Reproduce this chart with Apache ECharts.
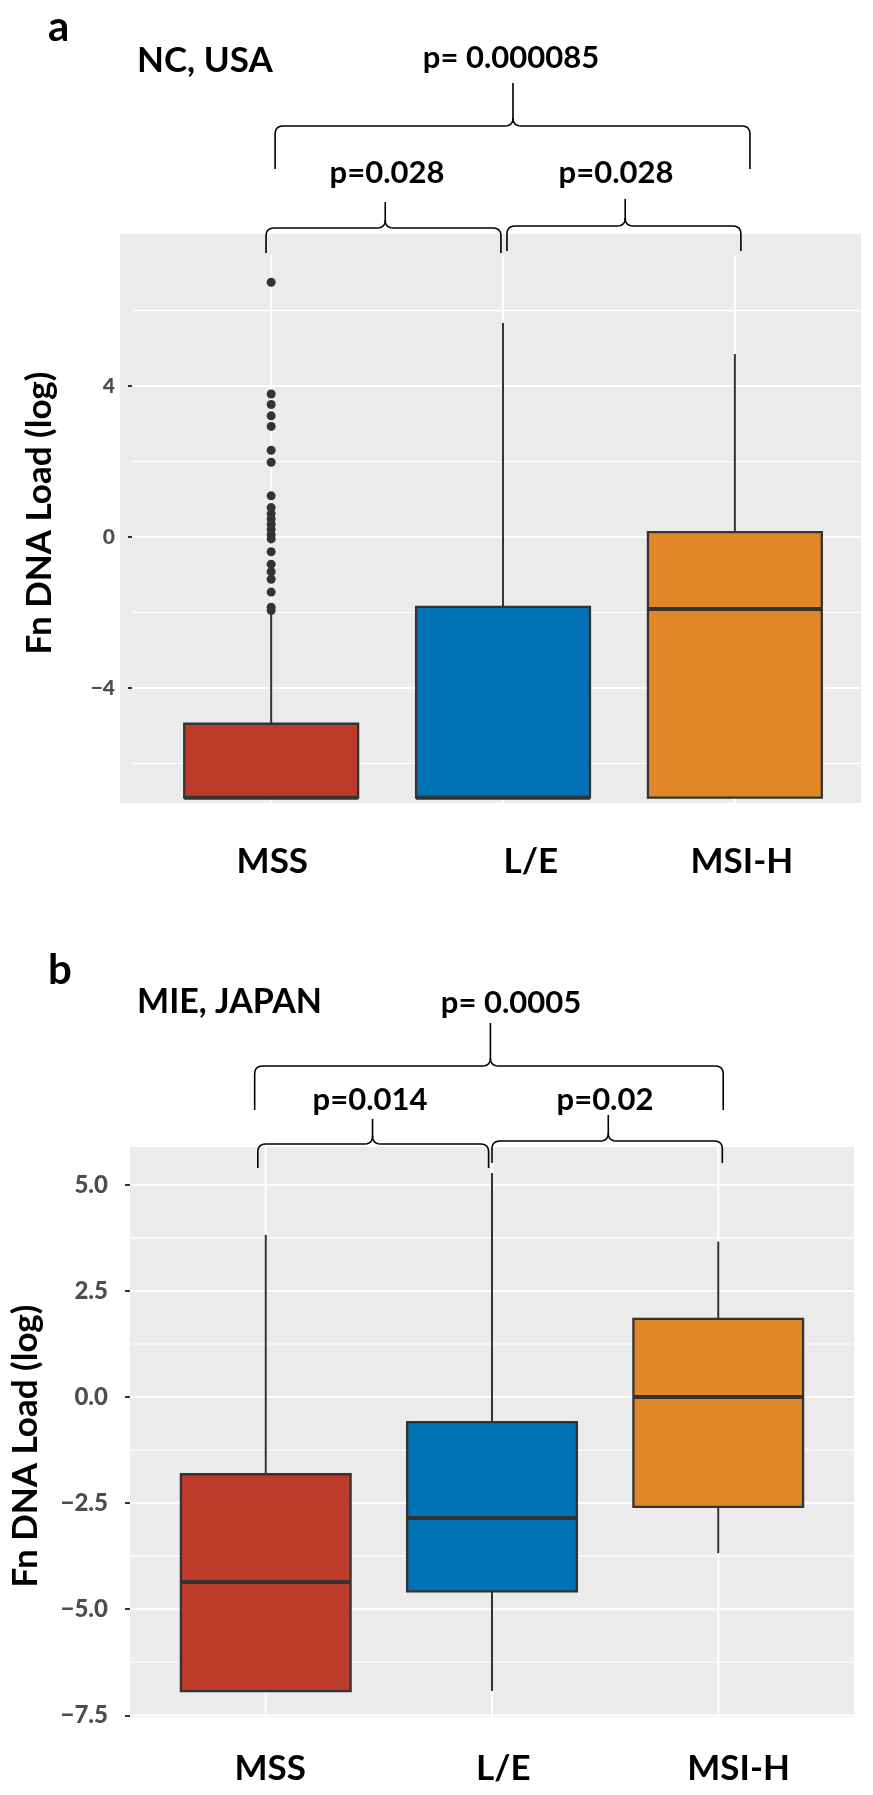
<!DOCTYPE html>
<html><head><meta charset="utf-8">
<script src="https://cdn.jsdelivr.net/npm/echarts@6/dist/echarts.min.js"></script>
<style>html,body{margin:0;padding:0;background:#fff}#c{width:873px;height:1795px}</style>
</head><body><div id="c"></div>
<script>
// ---------------- DATA ----------------
const categories = ['MSS', 'L/E', 'MSI-H'];

// Panel a: NC, USA
const ncWhiskerLow  = [-6.91, -6.91, -6.91];
const ncQ1          = [-6.91, -6.91, -6.91];
const ncMedian      = [-6.91, -6.91, -1.91];
const ncQ3          = [-4.95, -1.85, 0.13];
const ncWhiskerHigh = [-2.03, 5.67, 4.85];
const ncOutliersMSS = [6.75, 3.79, 3.51, 3.21, 2.93, 2.30, 1.98, 1.09, 0.78, 0.62, 0.48, 0.34, 0.20, 0.06, -0.05, -0.39, -0.72, -0.92, -1.12, -1.46, -1.86, -1.95];
const ncMajorTicks  = [-4, 0, 4];
const ncMinorTicks  = [-6, -2, 2, 6];
const ncPValues     = ['p= 0.000085', 'p=0.028', 'p=0.028'];

// Panel b: MIE, JAPAN
const mieWhiskerLow  = [-6.93, -6.93, -3.68];
const mieQ1          = [-6.93, -4.58, -2.59];
const mieMedian      = [-4.36, -2.85, 0.0];
const mieQ3          = [-1.82, -0.59, 1.84];
const mieWhiskerHigh = [3.82, 5.28, 3.66];
const mieMajorTicks  = [-7.5, -5, -2.5, 0, 2.5, 5];
const mieMinorTicks  = [-6.25, -3.75, -1.25, 1.25, 3.75];
const miePValues     = ['p= 0.0005', 'p=0.014', 'p=0.02'];

// ---------------- STYLE / LAYOUT ----------------
const boxColors = ['#BC3C29', '#0072B5', '#E18727'];
const FONT = 'Lato';
const panels = [
  { tag: 'a', title: 'NC, USA', low: ncWhiskerLow, q1: ncQ1, med: ncMedian, q3: ncQ3, high: ncWhiskerHigh,
    major: ncMajorTicks, minor: ncMinorTicks, pv: ncPValues,
    grid: { left: 120, top: 234, width: 741, height: 569 },
    xMin: 0.348, xMax: 3.544, yMin: -7.05, yMax: 8.03, panelX0: 0.4, panelYTop: 7.47,
    yOffset: -13, xOffset: 21, yLabelSize: 21, yLabelMargin: 18, fmt: v => (v < 0 ? '\u2212' : '') + Math.abs(v),
    xLabelPos: [1.005, 2.12, 3.03], xLabelMargin: 20, nameGap: 76, namePad: [0, 0, 0, 11],
    tagPos: [48, 27], titlePos: [137, 61], titleSize: 35, pTop: [511, 58], pLeft: [387, 173], pRight: [616, 173],
    braces: [[1.017, 3.065, 2.043, 126, 169, 83], [0.978, 1.991, 1.492, 228, 253, 202], [2.017, 3.026, 2.527, 226, 251, 199]] },
  { tag: 'b', title: 'MIE, JAPAN', low: mieWhiskerLow, q1: mieQ1, med: mieMedian, q3: mieQ3, high: mieWhiskerHigh,
    major: mieMajorTicks, minor: mieMinorTicks, pv: miePValues,
    grid: { left: 128, top: 1147, width: 726, height: 570 },
    xMin: 0.4, xMax: 3.6, yMin: -7.54, yMax: 5.89, panelX0: 0.4, panelYTop: 5.89,
    yOffset: 0, xOffset: 0, yLabelSize: 24, yLabelMargin: 22, fmt: v => (v < 0 ? '\u2212' : '') + Math.abs(v).toFixed(1),
    xLabelPos: [1.02, 2.05, 3.09], xLabelMargin: 34, nameGap: 87, namePad: [0, 28, 0, 0],
    tagPos: [48, 970], titlePos: [137, 1002], titleSize: 34, pTop: [511, 1003], pLeft: [370, 1100], pRight: [605, 1100],
    braces: [[0.951, 3.022, 1.993, 1066, 1110, 1023], [0.965, 1.985, 1.472, 1144, 1168, 1119], [2.0, 3.018, 2.514, 1141, 1163, 1115]] }
];

const grids = [], xAxes = [], yAxes = [], series = [];
panels.forEach((p, k) => {
  grids.push(Object.assign({ show: true, backgroundColor: '#EBEBEB', borderWidth: 0 }, p.grid));
  xAxes.push({
    gridIndex: k, type: 'value', min: p.xMin, max: p.xMax, offset: p.xOffset,
    axisLine: { show: false }, splitLine: { show: false },
    axisTick: { show: true, customValues: [1, 2, 3], length: 5, lineStyle: { color: '#333333', width: 2 } },
    axisLabel: { customValues: p.xLabelPos, formatter: v => categories[Math.round(v) - 1] || '',
      margin: p.xLabelMargin, color: '#000', fontFamily: FONT, fontWeight: 'bold', fontSize: 35 }
  });
  yAxes.push({
    gridIndex: k, type: 'value', min: p.yMin, max: p.yMax, offset: p.yOffset,
    axisLine: { show: false }, splitLine: { show: false },
    axisTick: { show: true, customValues: p.major, length: 5, lineStyle: { color: '#333333', width: 2 } },
    axisLabel: { customValues: p.major, formatter: p.fmt, margin: p.yLabelMargin, color: '#4D4D4D',
      fontFamily: FONT, fontWeight: 900, fontSize: p.yLabelSize },
    name: 'Fn DNA Load (log)', nameLocation: 'middle', nameRotate: 90, nameGap: p.nameGap,
    nameTextStyle: { color: '#000', fontFamily: FONT, fontWeight: 'bold', fontSize: 35, padding: p.namePad }
  });
  // gridlines
  const gl = [];
  p.major.forEach(v => gl.push([0, v, 2]));
  p.minor.forEach(v => gl.push([0, v, 1.1]));
  categories.forEach((c, i) => gl.push([1, i + 1, 2]));
  series.push({
    type: 'custom', xAxisIndex: k, yAxisIndex: k, z: 1, silent: true, data: gl,
    renderItem: (params, api) => {
      const cs = params.coordSys;
      const kind = api.value(0), v = api.value(1), w = api.value(2);
      let s;
      if (kind === 0) { const pt = api.coord([p.panelX0, v]); s = { x1: pt[0], y1: pt[1], x2: cs.x + cs.width, y2: pt[1] }; }
      else { const pt = api.coord([v, p.panelYTop]); s = { x1: pt[0], y1: pt[1], x2: pt[0], y2: cs.y + cs.height }; }
      return { type: 'line', shape: s, style: { stroke: '#FFFFFF', lineWidth: w } };
    }
  });
  // boxes
  const bd = categories.map((c, i) => [i + 1, p.low[i], p.q1[i], p.med[i], p.q3[i], p.high[i], i]);
  series.push({
    type: 'custom', xAxisIndex: k, yAxisIndex: k, z: 2, data: bd,
    renderItem: (params, api) => {
      const x = api.value(0);
      const lo = api.coord([x, api.value(1)]), q1 = api.coord([x, api.value(2)]), md = api.coord([x, api.value(3)]),
            q3 = api.coord([x, api.value(4)]), hi = api.coord([x, api.value(5)]);
      const hw = api.coord([x + 0.375, 0])[0] - api.coord([x, 0])[0];
      const col = boxColors[api.value(6)];
      const ln = { stroke: '#333333', lineWidth: 2 };
      return { type: 'group', children: [
        { type: 'line', shape: { x1: hi[0], y1: hi[1], x2: q3[0], y2: q3[1] }, style: ln },
        { type: 'line', shape: { x1: q1[0], y1: q1[1], x2: lo[0], y2: lo[1] }, style: ln },
        { type: 'rect', shape: { x: q3[0] - hw, y: q3[1], width: 2 * hw, height: q1[1] - q3[1] }, style: { fill: col, stroke: '#333333', lineWidth: 2.3 } },
        { type: 'line', shape: { x1: md[0] - hw, y1: md[1], x2: md[0] + hw, y2: md[1] }, style: { stroke: '#333333', lineWidth: 4 } }
      ]};
    }
  });
});
series.push({
  type: 'scatter', xAxisIndex: 0, yAxisIndex: 0, z: 3, symbolSize: 9,
  itemStyle: { color: '#333333', opacity: 1 }, data: ncOutliersMSS.map(v => [1, v])
});

const chart = echarts.init(document.getElementById('c'), null, { renderer: 'canvas' });
chart.setOption({ animation: false, backgroundColor: '#FFFFFF', grid: grids, xAxis: xAxes, yAxis: yAxes, series: series });

// ---------------- ANNOTATIONS ----------------
function quad(p0, p1, p2, n) {
  const r = [];
  for (let i = 1; i <= n; i++) { const t = i / n, u = 1 - t;
    r.push([u * u * p0[0] + 2 * u * t * p1[0] + t * t * p2[0], u * u * p0[1] + 2 * u * t * p1[1] + t * t * p2[1]]); }
  return r;
}
function brace(k, b) {
  const X = v => chart.convertToPixel({ xAxisIndex: k }, v);
  const x1 = X(b[0]), x2 = X(b[1]), xt = X(b[2]), yBar = b[3], yEnd = b[4], yTip = b[5], r = 8;
  let a = [[x1, yEnd], [x1, yBar + r]].concat(quad([x1, yBar + r], [x1, yBar], [x1 + r, yBar], 6));
  a.push([xt - r, yBar]); a = a.concat(quad([xt - r, yBar], [xt, yBar], [xt, yBar - r], 6)); a.push([xt, yTip]);
  let c = [[xt, yBar - r]].concat(quad([xt, yBar - r], [xt, yBar], [xt + r, yBar], 6));
  c.push([x2 - r, yBar]); c = c.concat(quad([x2 - r, yBar], [x2, yBar], [x2, yBar + r], 6)); c.push([x2, yEnd]);
  const st = { stroke: '#000', lineWidth: 1.6, fill: null };
  return [{ type: 'polyline', shape: { points: a }, style: st, z: 10 }, { type: 'polyline', shape: { points: c }, style: st, z: 10 }];
}
function txt(s, pos, size, align) {
  return { type: 'text', x: pos[0], y: pos[1], z: 10,
    style: { text: s, fill: '#000', font: 'bold ' + size + 'px ' + FONT, align: align, verticalAlign: 'middle', textAlign: align, textVerticalAlign: 'middle' } };
}
const gfx = [];
panels.forEach((p, k) => {
  p.braces.forEach(b => brace(k, b).forEach(e => gfx.push(e)));
  gfx.push(txt(p.tag, p.tagPos, 42, 'left'));
  gfx.push(txt(p.title, p.titlePos, p.titleSize, 'left'));
  gfx.push(txt(p.pv[0], p.pTop, 31, 'center'));
  gfx.push(txt(p.pv[1], p.pLeft, 31, 'center'));
  gfx.push(txt(p.pv[2], p.pRight, 31, 'center'));
});
chart.setOption({ graphic: gfx });
</script></body></html>
